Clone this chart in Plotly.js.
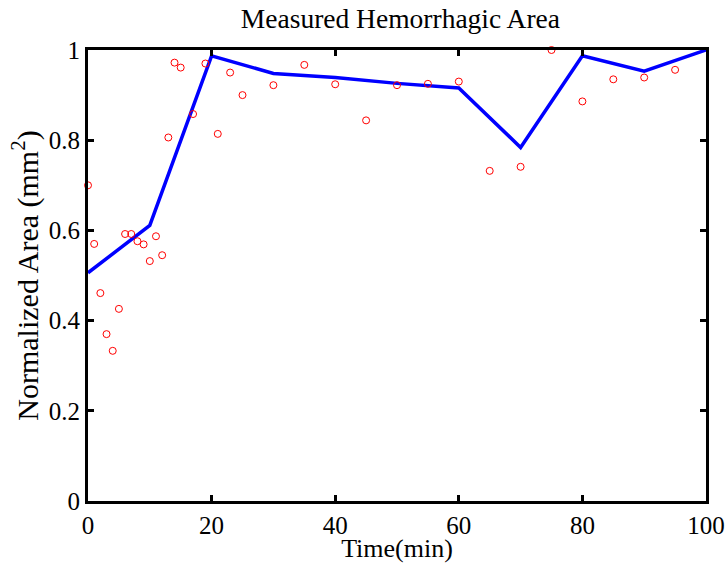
<!DOCTYPE html>
<html>
<head>
<meta charset="utf-8">
<script src="https://cdn.plot.ly/plotly-3.0.1.min.js"></script>
<style>html,body{margin:0;padding:0;background:#fff;}#chart{width:728px;height:563px;}</style>
</head>
<body>
<div id="chart"></div>
<script>
// Measured points (red circles)
var measuredTime = [0,1,2,3,4,5,6,7,8,9,10,11,12,13,14,15,17,19,21,23,25,30,35,40,45,50,55,60,65,70,75,80,85,90,95];
var measuredArea = [0.700,0.570,0.461,0.370,0.333,0.426,0.592,0.592,0.576,0.569,0.532,0.587,0.545,0.806,0.972,0.961,0.858,0.970,0.814,0.950,0.900,0.922,0.967,0.924,0.844,0.922,0.925,0.930,0.732,0.741,1.000,0.886,0.935,0.939,0.956];
// Fitted / mean line (blue)
var lineTime = [0,10,20,30,40,50,60,70,80,90,100];
var lineArea = [0.506,0.611,0.987,0.948,0.939,0.926,0.916,0.784,0.987,0.953,1.000];
var xTicks = [0,20,40,60,80,100];
var xTickLabels = ["0","20","40","60","80","100"];
var yTicks = [0,0.2,0.4,0.6,0.8,1];
var yTickLabels = ["0","0.2","0.4","0.6","0.8","1"];

var font = "Liberation Serif, Times New Roman, serif";
var data = [
  {x: lineTime, y: lineArea, type: "scatter", mode: "lines",
   line: {color: "#0000ff", width: 3.5}, hoverinfo: "skip"},
  {x: measuredTime, y: measuredArea, type: "scatter", mode: "markers",
   marker: {symbol: "circle-open", size: 7, color: "#ff0000", line: {width: 1, color: "#ff0000"}},
   cliponaxis: false}
];
var axisCommon = {
  showline: true, linecolor: "#000", linewidth: 3, mirror: "ticks",
  ticks: "inside", ticklen: 6, tickwidth: 3, tickcolor: "#000",
  showgrid: false, zeroline: false,
  tickfont: {family: font, size: 25, color: "#000"}
};
var layout = {
  width: 728, height: 563,
  margin: {l: 88, r: 22, t: 50, b: 62},
  paper_bgcolor: "#fff", plot_bgcolor: "#fff",
  showlegend: false,
  title: {text: "Measured Hemorrhagic Area", font: {family: font, size: 27.5, color: "#000"},
          x: 0.55, xanchor: "center", y: 0.968, yanchor: "middle"},
  xaxis: Object.assign({}, axisCommon, {
    range: [0, 100], tickvals: xTicks, ticktext: xTickLabels, ticklabelstandoff: 0,
    title: {text: "Time(min)", font: {family: font, size: 26, color: "#000"}, standoff: 0}
  }),
  yaxis: Object.assign({}, axisCommon, {
    range: [0, 1], tickvals: yTicks, ticktext: yTickLabels,
    title: {text: "Normalized Area (mm<sup>2</sup>)", font: {family: font, size: 30, color: "#000"}, standoff: 2}
  })
};
Plotly.newPlot("chart", data, layout, {displayModeBar: false, staticPlot: true});
</script>
</body>
</html>
